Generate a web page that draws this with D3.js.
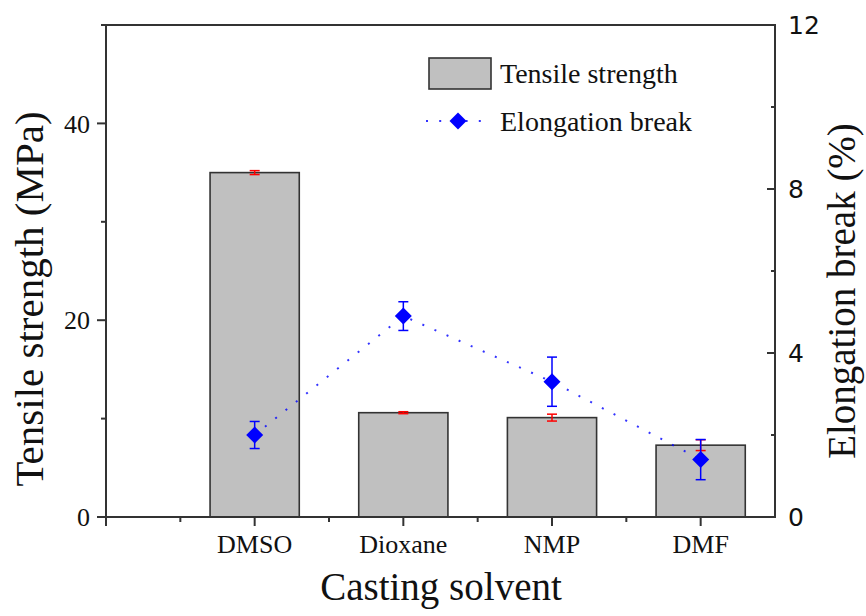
<!DOCTYPE html>
<html>
<head>
<meta charset="utf-8">
<script src="https://cdn.jsdelivr.net/npm/d3@7"></script>
<style>
  html, body { margin: 0; padding: 0; background: #fff; }
  svg { display: block; }
</style>
</head>
<body>
<svg id="chart" width="866" height="616"></svg>
<script>
// ---- data ----
const categories = ["DMSO", "Dioxane", "NMP", "DMF"];
const tensileStrength = [35.0, 10.6, 10.1, 7.3];
const tensileError = [0.2, 0.1, 0.35, 0.55];
const elongationBreak = [2.0, 4.9, 3.3, 1.4];
const elongationError = [0.33, 0.35, 0.6, 0.49];
const leftMajorTicks = [0, 20, 40];
const leftMinorTicks = [10, 30, 50];
const rightMajorTicks = [0, 4, 8, 12];
const rightMinorTicks = [2, 6, 10];
const legendLabels = ["Tensile strength", "Elongation break"];

// ---- layout ----
const svg = d3.select("#chart");
const L = 106, R = 775, T = 25, B = 517;
const serif = "'Liberation Serif', 'Times New Roman', serif";
const sans = "'DejaVu Sans', Verdana, sans-serif";
const axisColor = "#333";

const x = d3.scaleLinear().domain([0, 4.5]).range([L, R]);
const yL = d3.scaleLinear().domain([0, 50]).range([B, T]);
const yR = d3.scaleLinear().domain([0, 12]).range([B, T]);
const barW = x(0.6) - x(0);

const data = categories.map((c, i) => ({
  c, i, pos: i + 1,
  ts: tensileStrength[i], tsE: tensileError[i],
  el: elongationBreak[i], elE: elongationError[i]
}));

// bars
svg.append("g").selectAll("rect").data(data).join("rect")
  .attr("x", d => x(d.pos) - barW / 2)
  .attr("y", d => yL(d.ts))
  .attr("width", barW)
  .attr("height", d => yL(0) - yL(d.ts))
  .attr("fill", "#c0c0c0")
  .attr("stroke", "#333")
  .attr("stroke-width", 1.6);

// red error bars
const errR = svg.append("g").attr("stroke", "#ff0000").attr("stroke-width", 1.5);
data.forEach(d => {
  const cx = x(d.pos);
  errR.append("line").attr("x1", cx).attr("x2", cx)
    .attr("y1", yL(d.ts + d.tsE)).attr("y2", yL(d.ts - d.tsE));
  [d.ts + d.tsE, d.ts - d.tsE].forEach(v => {
    errR.append("line").attr("x1", cx - 5).attr("x2", cx + 5)
      .attr("y1", yL(v)).attr("y2", yL(v));
  });
});

// dotted line
const line = d3.line().x(d => x(d.pos)).y(d => yR(d.el));
svg.append("path").datum(data)
  .attr("d", line)
  .attr("fill", "none")
  .attr("stroke", "#0000ff")
  .attr("stroke-width", 2)
  .attr("stroke-dasharray", "2,11.2")
  .attr("opacity", 0.8);

// blue error bars
const errB = svg.append("g").attr("stroke", "#0000ff").attr("stroke-width", 1.5);
data.forEach(d => {
  const cx = x(d.pos);
  errB.append("line").attr("x1", cx).attr("x2", cx)
    .attr("y1", yR(d.el + d.elE)).attr("y2", yR(d.el - d.elE));
  [d.el + d.elE, d.el - d.elE].forEach(v => {
    errB.append("line").attr("x1", cx - 5).attr("x2", cx + 5)
      .attr("y1", yR(v)).attr("y2", yR(v));
  });
});

// diamonds
const dm = 8.5;
const diamond = (cx, cy) => `M${cx},${cy - dm}L${cx + dm},${cy}L${cx},${cy + dm}L${cx - dm},${cy}Z`;
svg.append("g").selectAll("path").data(data).join("path")
  .attr("d", d => diamond(x(d.pos), yR(d.el)))
  .attr("fill", "#0000ff");

// ---- axes ----
const ax = svg.append("g").attr("stroke", axisColor).attr("stroke-width", 2).attr("fill", "none");
ax.append("line").attr("x1", L).attr("x2", L).attr("y1", T).attr("y2", B + 9);
ax.append("line").attr("x1", R).attr("x2", R).attr("y1", T - 1).attr("y2", B + 1);
ax.append("line").attr("x1", L - 5).attr("x2", R + 1).attr("y1", T).attr("y2", T);
ax.append("line").attr("x1", L - 9).attr("x2", R + 1).attr("y1", B).attr("y2", B);

// left ticks (outward)
leftMajorTicks.forEach(v => ax.append("line").attr("x1", L - 9).attr("x2", L).attr("y1", yL(v)).attr("y2", yL(v)));
leftMinorTicks.forEach(v => ax.append("line").attr("x1", L - 5).attr("x2", L).attr("y1", yL(v)).attr("y2", yL(v)));
// right ticks (inward)
rightMajorTicks.forEach(v => ax.append("line").attr("x1", R - 8).attr("x2", R).attr("y1", yR(v)).attr("y2", yR(v)));
rightMinorTicks.forEach(v => ax.append("line").attr("x1", R - 4).attr("x2", R).attr("y1", yR(v)).attr("y2", yR(v)));
// bottom ticks (outward)
[0, 1, 2, 3, 4].forEach(v => ax.append("line").attr("x1", x(v)).attr("x2", x(v)).attr("y1", B).attr("y2", B + 9));
[0.5, 1.5, 2.5, 3.5].forEach(v => ax.append("line").attr("x1", x(v)).attr("x2", x(v)).attr("y1", B).attr("y2", B + 5));

// tick labels
svg.append("g").selectAll("text").data(leftMajorTicks).join("text")
  .attr("x", L - 16).attr("y", d => yL(d)).attr("dy", "0.35em")
  .attr("text-anchor", "end")
  .attr("font-family", serif).attr("font-size", 26).attr("fill", "#111")
  .text(d => d);

svg.append("g").selectAll("text").data(rightMajorTicks).join("text")
  .attr("x", R + 13).attr("y", d => yR(d)).attr("dy", "0.36em")
  .attr("text-anchor", "start")
  .attr("font-family", sans).attr("font-size", 25).attr("fill", "#111")
  .text(d => d);

svg.append("g").selectAll("text").data(data).join("text")
  .attr("x", d => x(d.pos)).attr("y", 553)
  .attr("text-anchor", "middle")
  .attr("font-family", serif).attr("font-size", 26).attr("fill", "#111")
  .text(d => d.c);

// axis titles
svg.append("text")
  .attr("transform", `translate(43,299) rotate(-90)`)
  .attr("text-anchor", "middle")
  .attr("font-family", serif).attr("font-size", 41).attr("fill", "#111")
  .text("Tensile strength (MPa)");

svg.append("text")
  .attr("transform", `translate(855,291) rotate(-90)`)
  .attr("text-anchor", "middle")
  .attr("font-family", serif).attr("font-size", 39).attr("fill", "#111")
  .text("Elongation break (%)");

svg.append("text")
  .attr("x", 441).attr("y", 600)
  .attr("text-anchor", "middle")
  .attr("font-family", serif).attr("font-size", 39).attr("fill", "#111")
  .text("Casting solvent");

// legend
const lg = svg.append("g");
lg.append("rect").attr("x", 429).attr("y", 58).attr("width", 62).attr("height", 31)
  .attr("fill", "#c0c0c0").attr("stroke", "#333").attr("stroke-width", 1.6);
lg.append("text").attr("x", 500).attr("y", 83)
  .attr("font-family", serif).attr("font-size", 28).attr("fill", "#111")
  .text(legendLabels[0]);
lg.append("line").attr("x1", 426).attr("x2", 486).attr("y1", 121).attr("y2", 121)
  .attr("stroke", "#0000ff").attr("stroke-width", 2)
  .attr("stroke-dasharray", "2,11.2").attr("opacity", 0.8);
lg.append("path").attr("d", diamond(458, 121)).attr("fill", "#0000ff");
lg.append("text").attr("x", 500).attr("y", 131)
  .attr("font-family", serif).attr("font-size", 28).attr("fill", "#111")
  .text(legendLabels[1]);
</script>
</body>
</html>
